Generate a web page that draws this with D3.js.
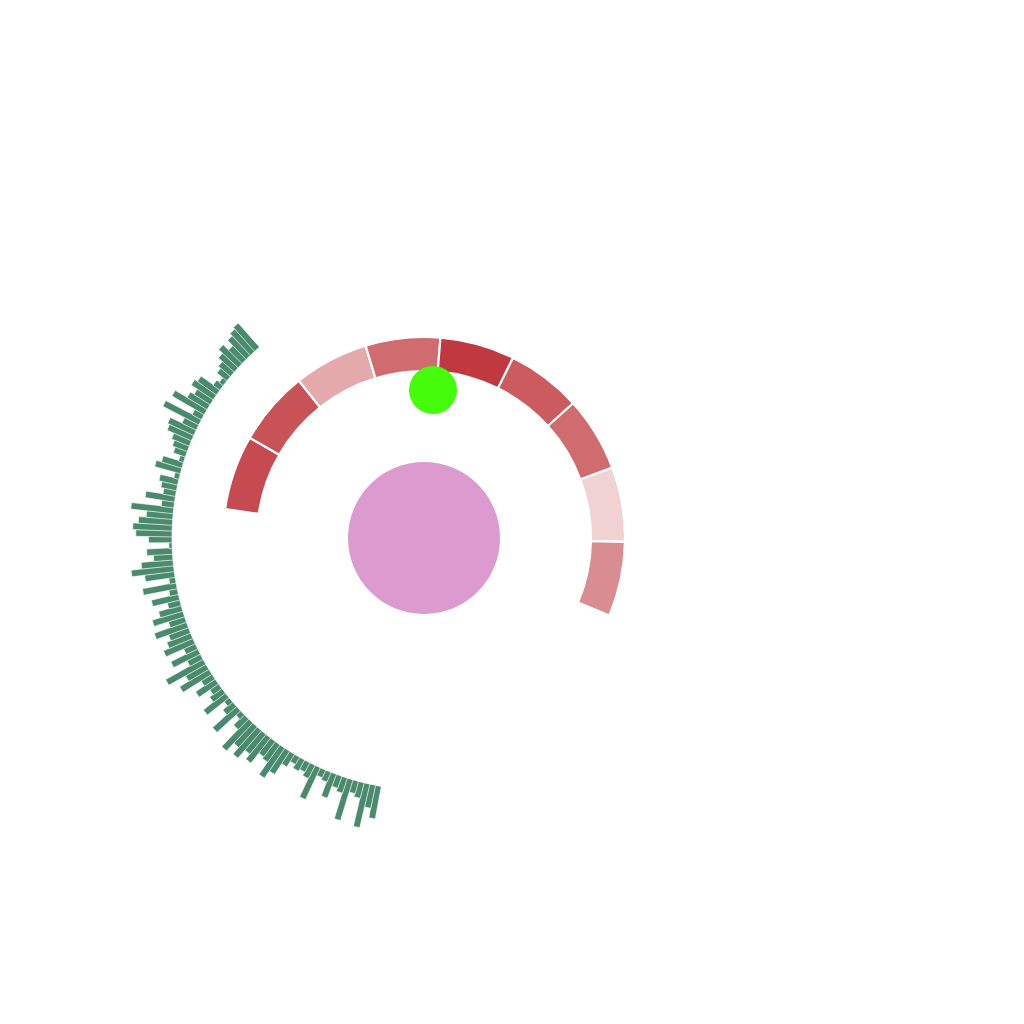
<!DOCTYPE html>
<html>
<head>
<meta charset="utf-8">
<script src="https://cdn.jsdelivr.net/npm/d3@7"></script>
<style>
  html, body { margin: 0; padding: 0; background: #fff; }
  svg { display: block; }
</style>
</head>
<body>
<script>
// Ring segments (sequential intensity per segment)
const ringCategories = ["S1","S2","S3","S4","S5","S6","S7","S8","S9"];
const ringValues = [88, 83, 27, 67, 100, 78, 67, 0, 45];

// Radial bars (ordered from bottom end to top end)
const barValues = [
  31,22,42,15,12,40,15,12,24,10,8,33,14,10,12,8,14,26,34,20,18,30,
  24,34,26,36,14,6,30,12,6,26,14,10,22,12,32,22,40,
  14,28,12,30,24,20,32,16,30,22,12,26,8,32,6,28,40,30,
  18,24,3,22,34,37,32,25,40,12,28,12,15,
  18,5,25,20,5,12,15,18,25,27,15,38,10,35,22,18,
  25,22,8,5,12,15,20,25,18,25,28,30
];

const W = 1024, H = 1024;
const cx = 424, cy = 538;

const svg = d3.select("body").append("svg")
  .attr("width", W).attr("height", H);

// --- Radial bars ---
const gBars = svg.append("g").attr("transform", `translate(${cx},${cy})`);
const angle = d3.scaleLinear().domain([0, barValues.length - 1]).range([190.5, 318.5]);
const radius = d3.scaleLinear().domain([0, 45]).range([252, 300]);
const barW = 6.6;

gBars.selectAll("rect.bar")
  .data(barValues)
  .join("rect")
  .attr("class", "bar")
  .attr("transform", (d, i) => `rotate(${angle(i)}) translate(0,${-radius(0)})`)
  .attr("x", -barW / 2)
  .attr("y", d => -(radius(d) - radius(0)))
  .attr("width", barW)
  .attr("height", d => radius(d) - radius(0))
  .attr("fill", "#4b8b6d")
  .attr("stroke", "#ffffff")
  .attr("stroke-width", 0.6);

// --- Ring ---
const gRing = svg.append("g").attr("transform", `translate(${cx},${cy})`);
const toRad = Math.PI / 180;
const startA = -81.7, endA = 112.7;
const seg = d3.scaleBand().domain(ringCategories).range([startA, endA]);
const color = d3.scaleLinear().domain([0, 100]).range(["#f0d2d3", "#c0393e"]);
const arc = d3.arc().innerRadius(167).outerRadius(201);

gRing.selectAll("path.seg")
  .data(ringCategories.map((c, i) => ({ c, v: ringValues[i] })))
  .join("path")
  .attr("class", "seg")
  .attr("d", d => arc({ startAngle: seg(d.c) * toRad, endAngle: (seg(d.c) + seg.bandwidth()) * toRad }))
  .attr("fill", d => color(d.v))
  .attr("stroke", "#ffffff")
  .attr("stroke-width", 2.2);

// --- Central circle ---
svg.append("circle")
  .attr("cx", cx).attr("cy", cy).attr("r", 76)
  .attr("fill", "#db9bcf");

// --- Small marker circle ---
svg.append("circle")
  .attr("cx", 433).attr("cy", 390).attr("r", 24)
  .attr("fill", "#45fc0b");
</script>
</body>
</html>
